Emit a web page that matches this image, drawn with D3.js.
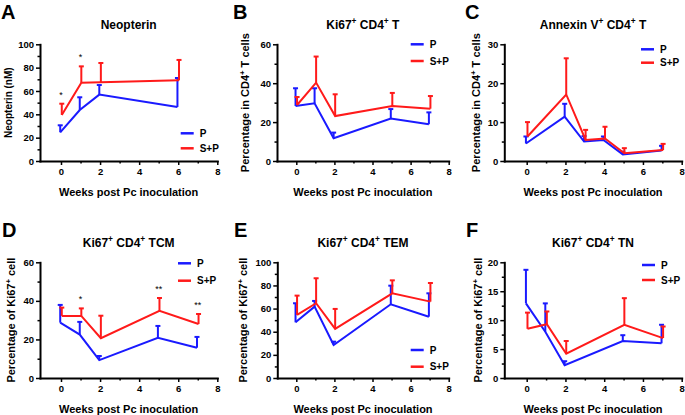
<!DOCTYPE html>
<html>
<head>
<meta charset="utf-8">
<script src="https://cdn.jsdelivr.net/npm/d3@7"></script>
<style>
  body { margin: 0; background: #fff; }
  svg { display: block; font-family: Arial, "Liberation Sans", sans-serif; font-weight: bold; }
</style>
</head>
<body>
<svg id="fig" width="685" height="415"></svg>
<script>
// --- data (mean and upper SD) ---

// A: Neopterin
const weeksA = [0, 1, 2, 6];
const neoP = [24.6, 43.7, 56.9, 46.3];
const neoPSd = [6.0, 10.9, 8.2, 24.8];
const neoSP = [39.5, 67.1, 67.4, 69.1];
const neoSPSd = [9.6, 14.0, 16.6, 17.5];
const neoStars = [{ week: 0, text: "*" }, { week: 1, text: "*" }];

// B: Ki67+ CD4+ T
const weeksB = [0, 1, 2, 5, 7];
const kiTP = [28.3, 29.7, 11.7, 21.8, 18.9];
const kiTPSd = [9.1, 7.7, 2.9, 4.9, 6.1];
const kiTSP = [28.8, 40.3, 23.1, 28.3, 26.9];
const kiTSPSd = [4.1, 13.4, 11.2, 6.7, 6.5];

// C: Annexin V+ CD4+ T
const weeksC = [0, 2, 3, 4, 5, 7];
const annP = [4.5, 11.4, 5.0, 5.4, 1.7, 2.7];
const annPSd = [1.8, 3.3, 1.4, 0.9, 0.7, 1.2];
const annSP = [6.3, 17.1, 5.4, 5.8, 2.0, 2.8];
const annSPSd = [3.7, 9.3, 2.6, 3.0, 1.3, 1.6];

// D: Ki67+ CD4+ TCM
const weeksD = [0, 1, 2, 5, 7];
const tcmP = [28.7, 22.5, 9.3, 20.8, 15.7];
const tcmPSd = [9.2, 6.6, 2.1, 6.2, 5.6];
const tcmSP = [32.2, 32.2, 20.6, 34.8, 28.0];
const tcmSPSd = [4.3, 3.9, 11.7, 6.7, 5.2];
const tcmStars = [{ week: 1, text: "*" }, { week: 5, text: "**" }, { week: 7, text: "**" }];

// E: Ki67+ CD4+ TEM
const weeksE = [0, 1, 2, 5, 7];
const temP = [48.1, 61.7, 28.5, 63.7, 53.0];
const temPSd = [16.5, 4.9, 2.9, 16.1, 20.2];
const temSP = [54.5, 64.6, 42.4, 73.2, 66.0];
const temSPSd = [16.7, 21.6, 17.3, 11.2, 16.1];

// F: Ki67+ CD4+ TN
const weeksF = [0, 1, 2, 5, 7];
const tnP = [12.9, 8.0, 2.2, 6.4, 6.0];
const tnPSd = [5.8, 4.9, 0.7, 1.0, 3.2];
const tnSP = [8.5, 9.3, 4.2, 9.2, 6.9];
const tnSPSd = [2.8, 2.2, 2.2, 4.6, 2.0];

const xTicks = [0, 2, 4, 6, 8];
const seriesNames = ["P", "S+P"];
const xLabel = "Weeks post Pc inoculation";

const BLUE = "#1a1aff";
const RED = "#ff1a1a";

const svg = d3.select("#fig");

// text made of [string, isSuperscript] parts
function richText(sel, parts, size) {
  parts.forEach(([s, sup]) => {
    sel.append("tspan")
      .text(s)
      .style("font-size", sup ? (size * 0.7) + "px" : size + "px")
      .attr("baseline-shift", sup ? (size * 0.38) + "px" : null);
  });
}

function drawPanel(cfg) {
  const g = svg.append("g");

  const x = d3.scaleLinear().domain([0, 8]).range([cfg.x0, cfg.x8]);
  const xAxisScale = d3.scaleLinear().domain([x.invert(cfg.left), 8]).range([cfg.left, cfg.x8]);
  const y = d3.scaleLinear().domain([0, cfg.yMax]).range([cfg.bottom, cfg.top]);

  // y axis
  const yMajor = d3.range(0, cfg.yMax + 0.001, cfg.yStep);
  const yMinor = d3.range(cfg.yStep / 2, cfg.yMax, cfg.yStep);
  const ya = g.append("g").attr("transform", `translate(${cfg.left},0)`)
    .call(d3.axisLeft(y).tickValues(yMajor).tickSize(4).tickSizeOuter(0).tickPadding(2));
  g.append("g").attr("transform", `translate(${cfg.left},0)`)
    .call(d3.axisLeft(y).tickValues(yMinor).tickSize(2.5).tickSizeOuter(0).tickFormat(""))
    .select(".domain").remove();

  // x axis
  const xMinor = [1, 3, 5, 7];
  const xa = g.append("g").attr("transform", `translate(0,${cfg.bottom})`)
    .call(d3.axisBottom(xAxisScale).tickValues(xTicks).tickSize(4).tickSizeOuter(0).tickPadding(3));
  g.append("g").attr("transform", `translate(0,${cfg.bottom})`)
    .call(d3.axisBottom(xAxisScale).tickValues(xMinor).tickSize(2.5).tickSizeOuter(0).tickFormat(""))
    .select(".domain").remove();

  g.selectAll(".domain").attr("stroke", "#000").attr("stroke-width", 2).attr("stroke-linecap", "square");
  g.selectAll(".tick line").attr("stroke", "#000").attr("stroke-width", 1.5);
  g.selectAll(".tick text").attr("fill", "#000").style("font-size", "9.5px").style("font-family", null);
  ya.attr("font-family", null).attr("font-size", null);
  xa.attr("font-family", null).attr("font-size", null);

  // series
  const line = d3.line().x(d => x(d.w)).y(d => y(d.m));
  cfg.series.forEach(s => {
    const pts = s.weeks.map((w, i) => ({ w: w + s.nudge, m: s.mean[i], top: s.mean[i] + s.sd[i] }));
    g.append("path").datum(pts)
      .attr("d", line).attr("fill", "none")
      .attr("stroke", s.color).attr("stroke-width", 2).attr("stroke-linejoin", "miter");
    const eb = g.selectAll(null).data(pts).enter().append("g").attr("stroke", s.color).attr("stroke-width", 2);
    eb.append("line")
      .attr("x1", d => x(d.w)).attr("x2", d => x(d.w))
      .attr("y1", d => y(d.m)).attr("y2", d => y(d.top));
    eb.append("line")
      .attr("x1", d => x(d.w) - 2.5).attr("x2", d => x(d.w) + 2.5)
      .attr("y1", d => y(d.top)).attr("y2", d => y(d.top));
  });

  // significance stars above the S+P error bar
  if (cfg.stars) {
    const sp = cfg.series[1];
    cfg.stars.forEach(st => {
      const i = sp.weeks.indexOf(st.week);
      g.append("text")
        .attr("x", x(st.week))
        .attr("y", y(sp.mean[i] + sp.sd[i]) - 6)
        .attr("text-anchor", "middle")
        .style("font-size", "9px").style("font-weight", "normal")
        .text(st.text);
    });
  }

  // legend
  cfg.series.forEach((s, i) => {
    const ly = cfg.legend.y + i * cfg.legend.dy;
    g.append("line")
      .attr("x1", cfg.legend.x).attr("x2", cfg.legend.x + 13)
      .attr("y1", ly).attr("y2", ly)
      .attr("stroke", s.color).attr("stroke-width", 2.5);
    g.append("text")
      .attr("x", cfg.legend.x + 19).attr("y", ly + 3.6)
      .style("font-size", "10px")
      .text(seriesNames[i]);
  });

  // title
  const cx = (cfg.left + cfg.x8) / 2;
  const title = g.append("text")
    .attr("x", cx).attr("y", cfg.top - 15)
    .attr("text-anchor", "middle");
  richText(title, cfg.title, 12);

  // x label
  g.append("text")
    .attr("x", cx).attr("y", cfg.bottom + 35)
    .attr("text-anchor", "middle")
    .style("font-size", "11px")
    .text(xLabel);

  // y label
  const yl = g.append("text")
    .attr("transform", `translate(${cfg.ylabX},${(cfg.top + cfg.bottom) / 2}) rotate(-90)`)
    .attr("text-anchor", "middle");
  richText(yl, cfg.ylabel, cfg.ylabSize);

  // panel letter
  g.append("text")
    .attr("x", cfg.letterX).attr("y", cfg.top - 25.5)
    .style("font-size", "20px")
    .text(cfg.letter);
}

const ki = [["Ki67"], ["+", 1], [" CD4"], ["+", 1]];
const pctCD4 = [["Percentage in CD4"], ["+", 1], [" T cells"]];
const pctKi = [["Percentage of Ki67"], ["+", 1], [" cell"]];

function two(weeks, p, pSd, sp, spSd) {
  return [
    { weeks, mean: p, sd: pSd, color: BLUE, nudge: -0.04 },
    { weeks, mean: sp, sd: spSd, color: RED, nudge: 0.04 }
  ];
}

const panels = [
  { letter: "A", letterX: 1, title: [["Neopterin"]], ylabel: [["Neopterin (nM)"]], ylabSize: 10, ylabX: 11.5,
    left: 40, x0: 61, x8: 217.3, top: 44.3, bottom: 161, yMax: 100, yStep: 20,
    legend: { x: 180.7, y: 133.3, dy: 15 }, stars: neoStars,
    series: two(weeksA, neoP, neoPSd, neoSP, neoSPSd) },
  { letter: "B", letterX: 233, title: ki.concat([[" T"]]), ylabel: pctCD4, ylabSize: 11, ylabX: 249,
    left: 277, x0: 296.3, x8: 448.7, top: 44.3, bottom: 161, yMax: 60, yStep: 20,
    legend: { x: 410.7, y: 44.3, dy: 16.7 },
    series: two(weeksB, kiTP, kiTPSd, kiTSP, kiTSPSd) },
  { letter: "C", letterX: 465, title: [["Annexin V"], ["+", 1], [" CD4"], ["+", 1], [" T"]], ylabel: pctCD4, ylabSize: 11, ylabX: 480,
    left: 504.3, x0: 526.7, x8: 681.7, top: 44.3, bottom: 161, yMax: 30, yStep: 10,
    legend: { x: 641, y: 49.3, dy: 13.4 },
    series: two(weeksC, annP, annPSd, annSP, annSPSd) },
  { letter: "D", letterX: 2, title: ki.concat([[" TCM"]]), ylabel: pctKi, ylabSize: 11, ylabX: 14.5,
    left: 40, x0: 61, x8: 217.3, top: 262.3, bottom: 378, yMax: 60, yStep: 20,
    legend: { x: 178, y: 263.3, dy: 17.4 }, stars: tcmStars,
    series: two(weeksD, tcmP, tcmPSd, tcmSP, tcmSPSd) },
  { letter: "E", letterX: 234, title: ki.concat([[" TEM"]]), ylabel: pctKi, ylabSize: 11, ylabX: 246.5,
    left: 277.3, x0: 296.3, x8: 448.7, top: 262.3, bottom: 378, yMax: 100, yStep: 20,
    legend: { x: 410.7, y: 350, dy: 16.7 },
    series: two(weeksE, temP, temPSd, temSP, temSPSd) },
  { letter: "F", letterX: 466, title: ki.concat([[" TN"]]), ylabel: pctKi, ylabSize: 11, ylabX: 481.5,
    left: 504.3, x0: 526.7, x8: 681.7, top: 262.3, bottom: 378, yMax: 20, yStep: 5,
    legend: { x: 642, y: 265, dy: 15 },
    series: two(weeksF, tnP, tnPSd, tnSP, tnSPSd) }
];

panels.forEach(drawPanel);
</script>
</body>
</html>
